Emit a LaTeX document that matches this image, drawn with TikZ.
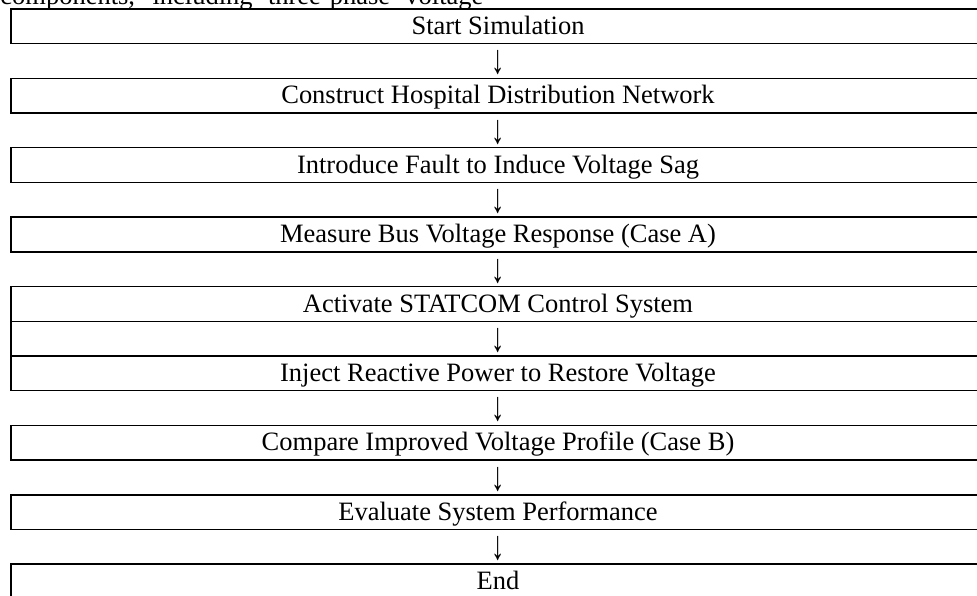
\documentclass[tikz,border=0pt]{standalone}
\usepackage{fontspec}
\setmainfont{Liberation Serif}
\usepackage{tikz}
\usetikzlibrary{positioning}
\newcommand{\downcell}{\raisebox{-2.2pt}{\scalebox{1}[1.55]{↓}}}

\begin{document}
\begin{tikzpicture}[
  stage/.style={rectangle,draw,line width=0.65pt,outer sep=0pt,inner sep=0pt,minimum width=15.507cm,minimum height=0.5525cm,text height=9.4pt,text depth=2.1pt,font=\fontsize{12}{14}\selectfont},
  gaprow/.style={stage,draw=none}
]
\path[use as bounding box,clip] (0,0) rectangle (15.555,-9.489);

% tail of the paragraph above the table
\node[anchor=base west,inner sep=0pt,font=\fontsize{12}{14}\selectfont] (intro) at (0,-0.072)
  {\makebox[218.8pt][s]{components, including three-phase voltage}};

\node[stage] (start) at (7.929,-0.419) {Start Simulation};
\node[gaprow,below=0pt of start] (d1) {\downcell};
\node[stage,below=0pt of d1] (build) {Construct Hospital Distribution Network};
\node[gaprow,below=0pt of build] (d2) {\downcell};
\node[stage,below=0pt of d2] (fault) {Introduce Fault to Induce Voltage Sag};
\node[gaprow,below=0pt of fault] (d3) {\downcell};
\node[stage,below=0pt of d3] (measure) {Measure Bus Voltage Response (Case A)};
\node[gaprow,below=0pt of measure] (d4) {\downcell};
\node[stage,below=0pt of d4] (statcom) {Activate STATCOM Control System};
\node[gaprow,below=0pt of statcom] (d5) {\downcell};
\node[stage,below=0pt of d5] (inject) {Inject Reactive Power to Restore Voltage};
\node[gaprow,below=0pt of inject] (d6) {\downcell};
\node[stage,below=0pt of d6] (compare) {Compare Improved Voltage Profile (Case B)};
\node[gaprow,below=0pt of compare] (d7) {\downcell};
\node[stage,below=0pt of d7] (evaluate) {Evaluate System Performance};
\node[gaprow,below=0pt of evaluate] (d8) {\downcell};
\node[stage,below=0pt of d8] (finish) {End};

% the one arrow cell that keeps its side rule
\draw[line width=0.65pt] (statcom.south west) -- (inject.north west);
\end{tikzpicture}
\end{document}
